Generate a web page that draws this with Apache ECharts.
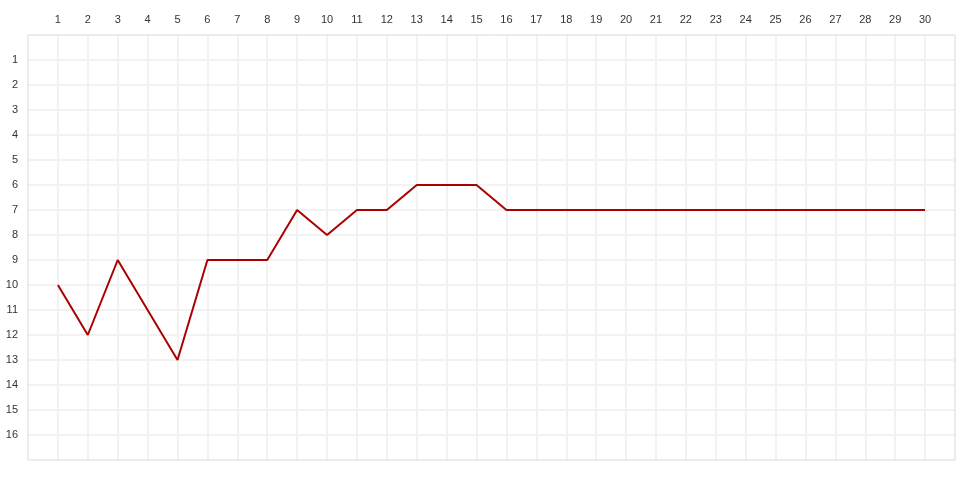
<!DOCTYPE html>
<html><head><meta charset="utf-8">
<script src="https://cdn.jsdelivr.net/npm/echarts@6/dist/echarts.min.js"></script>
<style>html,body{margin:0;padding:0;background:#fff}#c{width:980px;height:490px}</style>
</head><body><div id="c"></div>
<script>
const days = [1,2,3,4,5,6,7,8,9,10,11,12,13,14,15,16,17,18,19,20,21,22,23,24,25,26,27,28,29,30];
const ranks = [10,12,9,11,13,9,9,9,7,8,7,7,6,6,6,7,7,7,7,7,7,7,7,7,7,7,7,7,7,7];
const chart = echarts.init(document.getElementById('c'));
chart.setOption({
  animation: false,
  grid: {left: 28, right: 25, top: 35, bottom: 30, show: true, borderColor: '#d9d9d9', borderWidth: 1, z: 5},
  xAxis: {
    type: 'value', position: 'top', min: 0, max: 31, interval: 1,
    axisLine: {show: false}, axisTick: {show: false},
    axisLabel: {color: '#333', fontSize: 11, margin: 10, showMinLabel: false, showMaxLabel: false,
      formatter: v => (v >= 1 && v <= 30) ? String(v) : ''},
    splitLine: {showMinLine: false, showMaxLine: false, lineStyle: {color: '#f2f2f2', width: 2}}
  },
  yAxis: {
    type: 'value', inverse: true, min: 0, max: 17, interval: 1,
    axisLine: {show: false}, axisTick: {show: false},
    axisLabel: {color: '#333', fontSize: 11, margin: 10, showMinLabel: false, showMaxLabel: false,
      formatter: v => (v >= 1 && v <= 16) ? String(v) : ''},
    splitLine: {showMinLine: false, showMaxLine: false, lineStyle: {color: '#f2f2f2', width: 2}}
  },
  series: [{
    type: 'line', data: days.map((d, i) => [d, ranks[i]]),
    showSymbol: false, symbol: 'none',
    lineStyle: {color: '#aa0000', width: 2}
  }]
});
</script></body></html>
